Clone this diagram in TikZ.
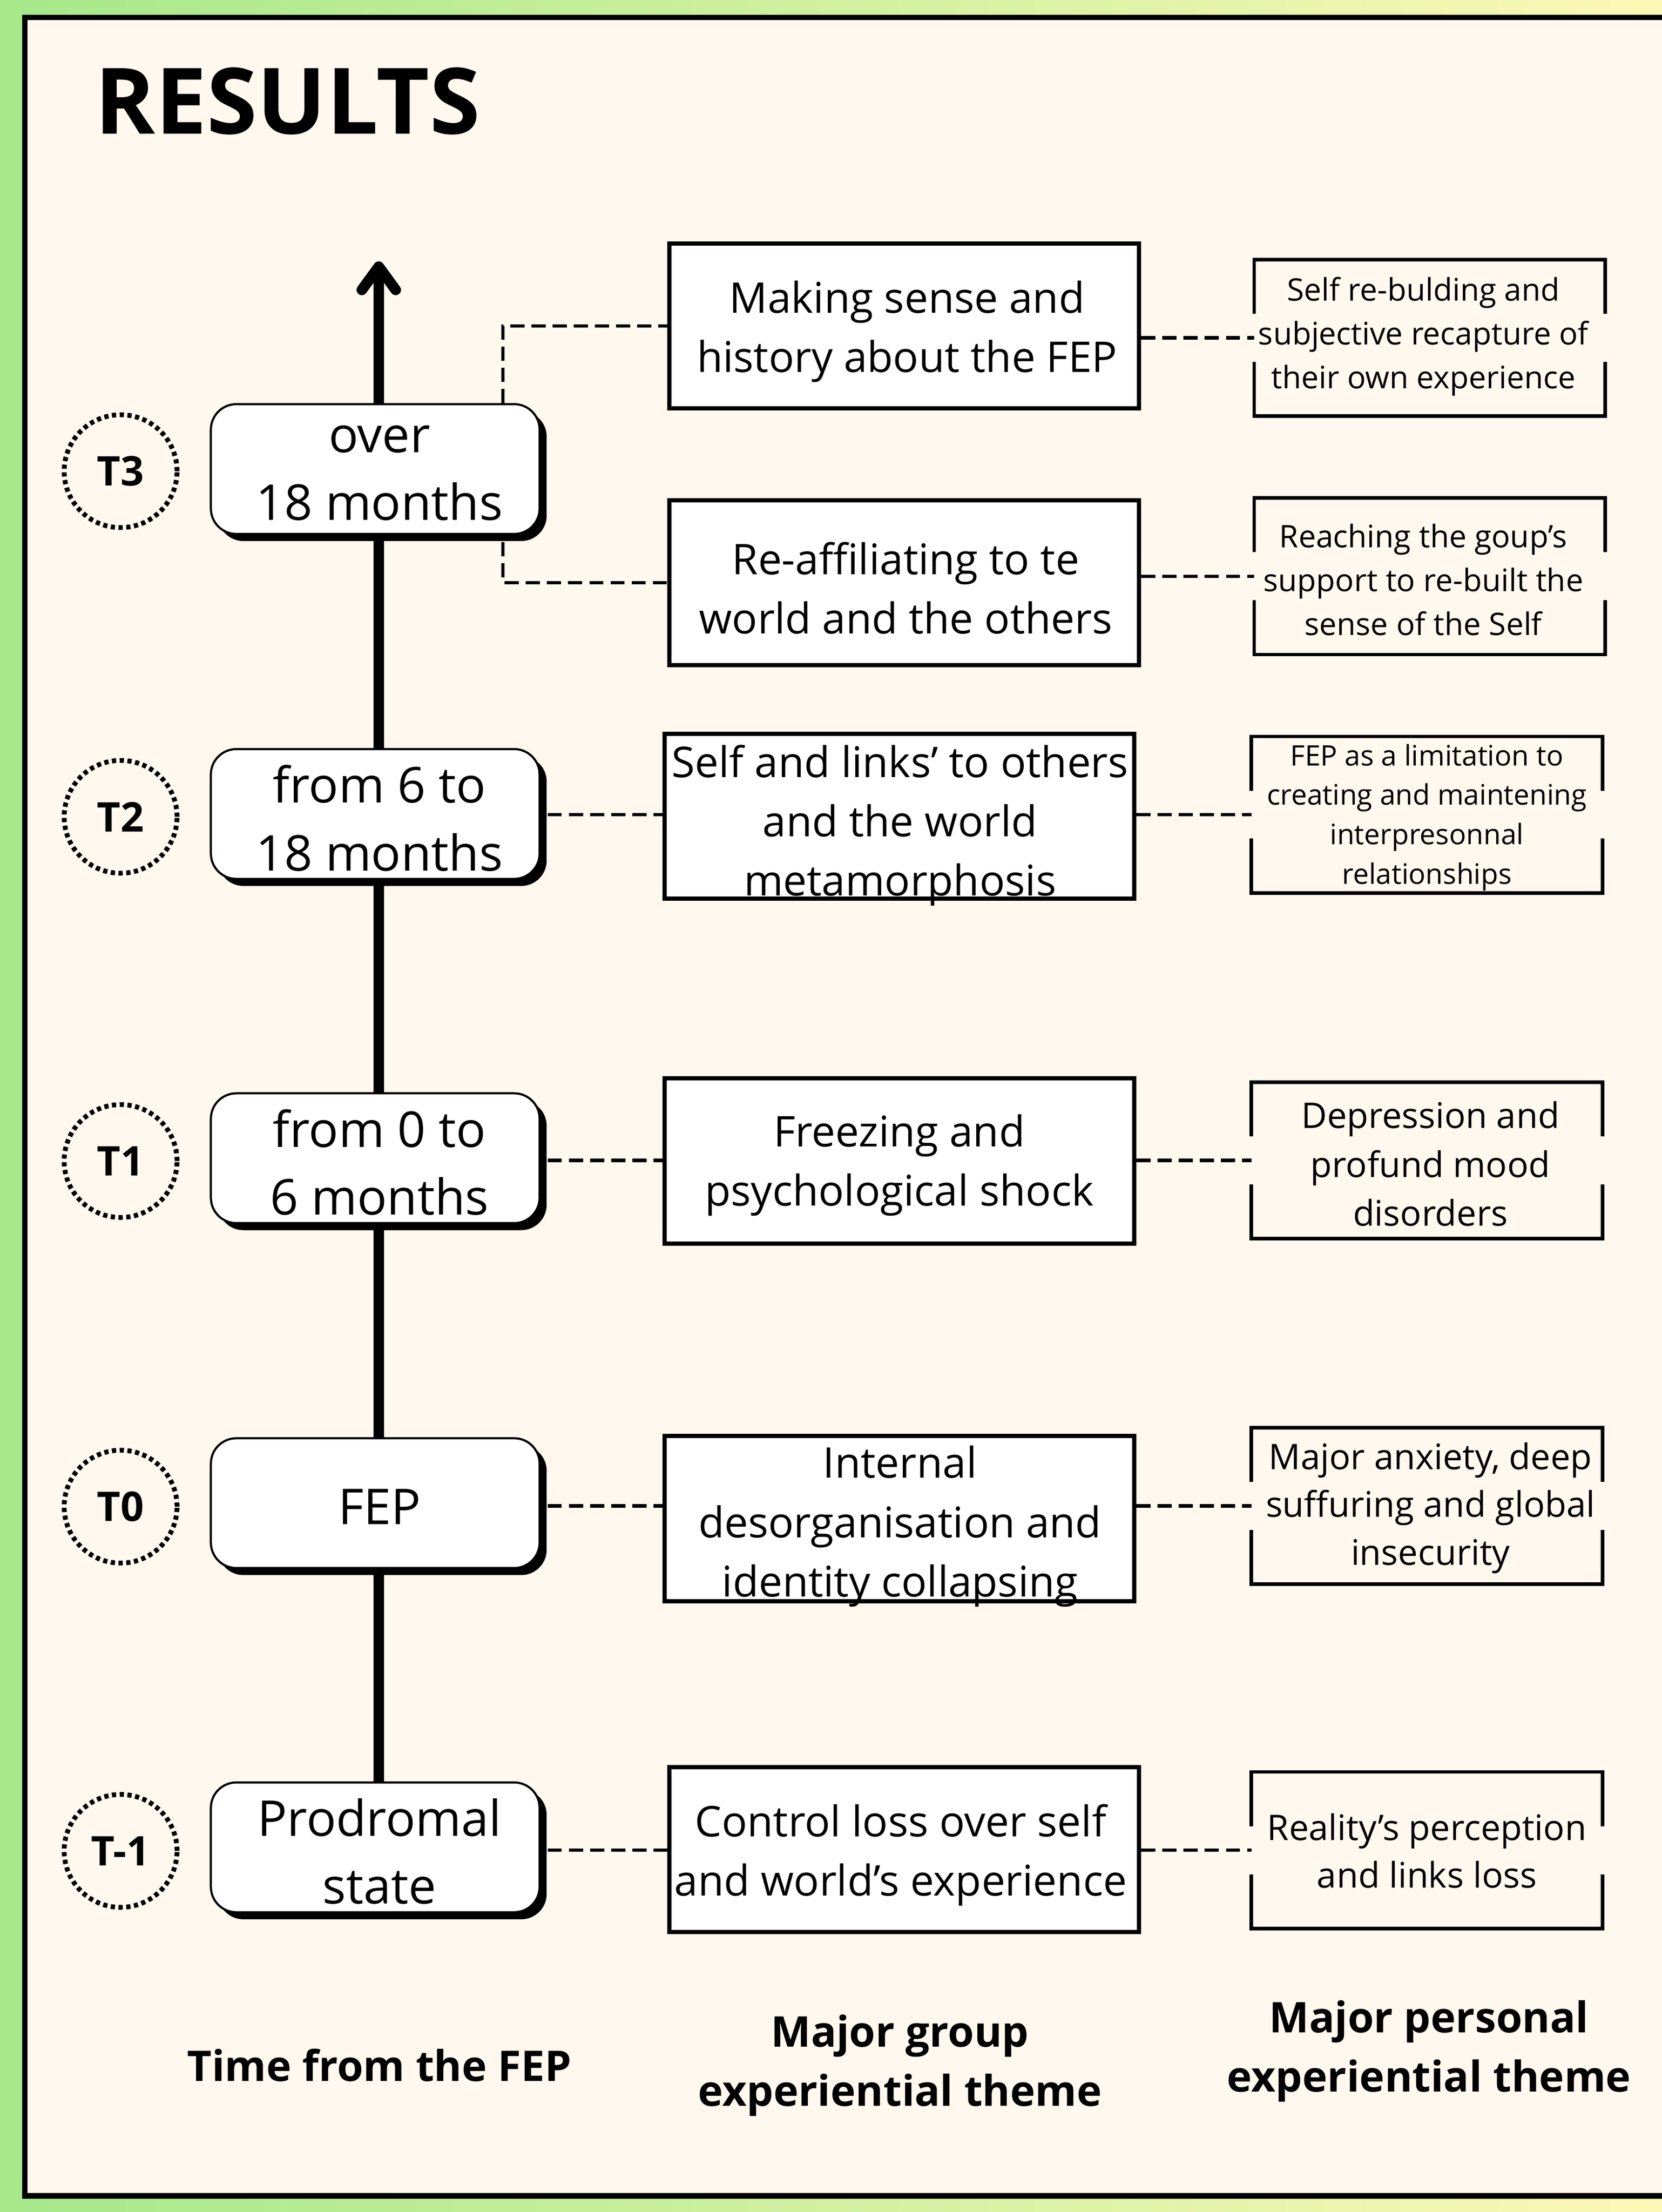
\documentclass[tikz,border=0pt]{standalone}
\usepackage{fontspec}
\setmainfont{Open Sans}
\usetikzlibrary{shadows,calc}
\definecolor{cream}{HTML}{FFF8EF}
\definecolor{bggreen}{HTML}{A6E88B}
\definecolor{bgyellow}{HTML}{FCF8B5}
\newcommand\pframe[1]{%
  \draw[pline] ([yshift=17pt]#1.west) -- (#1.north west) -- (#1.north east) -- ([yshift=17pt]#1.east);
  \draw[pline] ([yshift=-17pt]#1.west) -- (#1.south west) -- (#1.south east) -- ([yshift=-17pt]#1.east);}
\begin{document}
\begin{tikzpicture}[x=1pt,y=-1pt,
  timebox/.style={rectangle, rounded corners=18pt, draw=black, line width=1.5pt, fill=white,
    minimum width=233pt, minimum height=92pt, inner sep=0,
    drop shadow={shadow xshift=5pt, shadow yshift=-5pt, fill=black, opacity=1}},
  timetext/.style={font=\fontsize{35}{48}\selectfont, align=center, inner sep=0},
  gbox/.style={rectangle, draw=black, line width=3pt, fill=white, minimum width=333pt, minimum height=117pt, inner sep=0},
  gtext/.style={font=\fontsize{30}{42}\selectfont, align=center, inner sep=0},
  pbox/.style={rectangle, minimum width=248.5pt, minimum height=110.5pt, inner sep=0},
  pline/.style={line width=2.5pt, line join=miter},
  ptext/.style={align=center, inner sep=0},
  circ/.style={circle, draw=black, line width=3.4pt, dash pattern=on 3pt off 2.5pt, minimum size=80pt, inner sep=0,
    font=\fontsize{29}{34}\selectfont\bfseries},
  dconn/.style={line width=2.4pt, dash pattern=on 10pt off 5pt},
  tconn/.style={line width=2pt, dash pattern=on 10pt off 5pt},
  axis/.style={line width=7.5pt},
  lab/.style={font=\fontsize{30}{42}\selectfont\bfseries, align=center, inner sep=0}]
\useasboundingbox (0,0) rectangle (1178,1568);
\shade[left color=bggreen, right color=bgyellow] (0,0) rectangle (1178,1568);
\fill[cream] (17.6,12.4) rectangle (1178,1556.5);
\draw[line width=4pt, line join=miter] (1178,12.4) -- (17.6,12.4) -- (17.6,1556.5) -- (1178,1556.5);

% title
\node[anchor=base west, font=\fontsize{65}{70}\selectfont\bfseries, inner sep=0] (title) at (67,95) {RESULTS};

% axis
\coordinate (tip) at (268.5,189);
\coordinate (axbot) at (268.5,1309);
\draw[axis] (axbot) -- (tip);
\draw[axis, line cap=round, line join=round] ([xshift=-12pt,yshift=-16.5pt]tip) -- (tip) -- ([xshift=12pt,yshift=-16.5pt]tip);

% time boxes
\node[timebox] (T3) at (266,332.5) {};
\node[timebox] (T2) at (266,577) {};
\node[timebox] (T1) at (266,821) {};
\node[timebox] (T0) at (266,1065.5) {};
\node[timebox] (Tm1) at (266,1309.5) {};
\node[timetext] (T3t) at (269,335.5) {over\\18 months};
\node[timetext] (T2t) at (269,580) {from 6 to\\18 months};
\node[timetext] (T1t) at (269,824) {from 0 to\\6 months};
\node[timetext] (T0t) at (269,1068) {FEP};
\node[timetext] (Tm1t) at (269,1312.5) {Prodromal\\state};

% circles
\node[circ] (C3) at (85.5,334) {T3};
\node[circ] (C2) at (85.5,579) {T2};
\node[circ] (C1) at (85.5,823) {T1};
\node[circ] (C0) at (85.5,1068) {T0};
\node[circ] (Cm1) at (85.5,1312) {T-1};

% group boxes
\node[gbox] (G3a) at (641,231) {};
\node[gbox] (G3b) at (641,413) {};
\node[gbox] (G2) at (637.5,578.5) {};
\node[gbox] (G1) at (637.5,823) {};
\node[gbox] (G0) at (637.5,1076.5) {};
\node[gbox] (Gm1) at (641,1311) {};
\node[gtext] (G3at) at (643,235) {Making sense and\\history about the FEP};
\node[gtext] (G3bt) at (642,417) {Re-affiliating to te\\world and the others};
\node[gtext] (G2t) at (638,585) {Self and links’ to others\\and the world\\metamorphosis};
\node[gtext] (G1t) at (637.5,826) {Freezing and\\psychological shock};
\node[gtext] (G0t) at (638,1082) {Internal\\desorganisation and\\identity collapsing};
\node[gtext] (Gm1t) at (638.5,1315) {Control loss over self\\and world’s experience};

% personal boxes
\node[pbox] (P3a) at (1013.5,239.5) {};
\node[pbox] (P3b) at (1013.5,408.5) {};
\node[pbox] (P2) at (1011.5,577.5) {};
\node[pbox] (P1) at (1011.5,822.5) {};
\node[pbox] (P0) at (1011.5,1067.5) {};
\node[pbox] (Pm1) at (1011.5,1311.5) {};
\pframe{P3a}\pframe{P3b}\pframe{P2}\pframe{P1}\pframe{P0}\pframe{Pm1}
\node[ptext, font=\fontsize{22}{31}\selectfont] (P3at) at (1009,238.5) {Self re-bulding and\\subjective recapture of\\their own experience};
\node[ptext, font=\fontsize{22}{31}\selectfont] (P3bt) at (1009,411) {Reaching the goup’s\\support to re-built the\\sense of the Self};
\node[ptext, font=\fontsize{20}{28}\selectfont] (P2t) at (1011.5,579.5) {FEP as a limitation to\\creating and maintening\\interpresonnal\\relationships};
\node[ptext, font=\fontsize{25}{34.5}\selectfont] (P1t) at (1014,825) {Depression and\\profund mood\\disorders};
\node[ptext, font=\fontsize{25}{34}\selectfont] (P0t) at (1014,1069) {Major anxiety, deep\\suffuring and global\\insecurity};
\node[ptext, font=\fontsize{25}{34}\selectfont] (Pm1t) at (1011.5,1312) {Reality’s perception\\and links loss};

% connectors
\draw[tconn] ([xshift=90.5pt]T3.north) |- (G3a.west);
\draw[tconn] ([xshift=90.5pt,yshift=-5pt]T3.south) |- (G3b.west);
\draw[dconn] (G3a.east |- P3a.west) -- (P3a.west);
\draw[dconn] (G3b.east |- P3b.west) -- (P3b.west);
\draw[dconn] ([xshift=5pt]T2.east |- P2.west) -- (G2.west |- P2.west);
\draw[dconn] (G2.east |- P2.west) -- (P2.west);
\draw[dconn] ([xshift=5pt]T1.east |- P1.west) -- (G1.west |- P1.west);
\draw[dconn] (G1.east |- P1.west) -- (P1.west);
\draw[dconn] ([xshift=5pt]T0.east |- P0.west) -- (G0.west |- P0.west);
\draw[dconn] (G0.east |- P0.west) -- (P0.west);
\draw[dconn] ([xshift=5pt]Tm1.east |- Pm1.west) -- (Gm1.west |- Pm1.west);
\draw[dconn] (Gm1.east |- Pm1.west) -- (Pm1.west);

% bottom labels
\node[lab] (L1) at (269,1464) {Time from the FEP};
\node[lab] (L2) at (638,1464) {Major group\\experiential theme};
\node[lab] (L3) at (1013,1454) {Major personal\\experiential theme};
\end{tikzpicture}
\end{document}
